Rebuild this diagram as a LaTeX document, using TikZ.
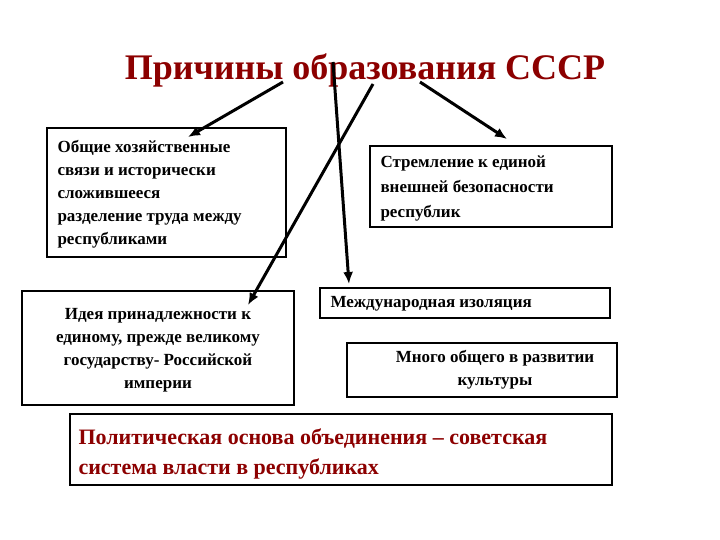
\documentclass[tikz,border=0pt]{standalone}
\usepackage{fontspec}
\setmainfont{Liberation Serif}
\usetikzlibrary{arrows.meta}
\begin{document}
\begin{tikzpicture}[x=1pt,y=-1pt,
 box/.style={draw,line width=1.6pt,inner sep=0pt},
 txt/.style={font=\bfseries\fontsize{17}{23}\selectfont,align=left},
 arr/.style={-{Latex[length=12pt,width=10pt]},line width=3pt}]
\useasboundingbox (0,0) rectangle (720,540);
\node[font=\bfseries\fontsize{36}{40}\selectfont,text=red!55!black] (t) at (365,70) {Причины образования СССР};
\draw[box] (47,128) rectangle (286,257);
\node[txt,anchor=north west] (b1) at (54,137) {Общие хозяйственные\\связи и исторически\\сложившееся\\разделение труда между\\республиками};
\draw[box] (370,146) rectangle (612,227);
\node[txt,anchor=north west,font=\bfseries\fontsize{17}{25}\selectfont] (b2) at (377,152) {Стремление к единой\\внешней безопасности\\республик};
\draw[box] (22,291) rectangle (294,405);
\node[txt,align=center] (b3) at (158,350) {Идея принадлежности к\\единому, прежде великому\\государству- Российской\\империи};
\draw[box] (320,288) rectangle (610,318);
\node[txt,anchor=west] (b4) at (327,304) {Международная изоляция};
\draw[box] (347,343) rectangle (617,397);
\node[txt,align=center] (b5) at (495,370) {Много общего в развитии\\культуры};
\draw[box] (70,414) rectangle (612,485);
\node[font=\bfseries\fontsize{22}{30}\selectfont,text=red!55!black,align=left,anchor=north west] (b6) at (75,425) {Политическая основа объединения – советская\\система власти в республиках};
\coordinate (s1) at (283,82); \coordinate (e1) at (188,137);
\coordinate (s2) at (333,62); \coordinate (e2) at (349,284);
\coordinate (s3) at (373,84); \coordinate (e3) at (248,305);
\coordinate (s4) at (420,82); \coordinate (e4) at (507,139);
\draw[arr] (s1) -- (e1);
\draw[arr] (s2) -- (e2);
\draw[arr] (s3) -- (e3);
\draw[arr] (s4) -- (e4);
\end{tikzpicture}
\end{document}
